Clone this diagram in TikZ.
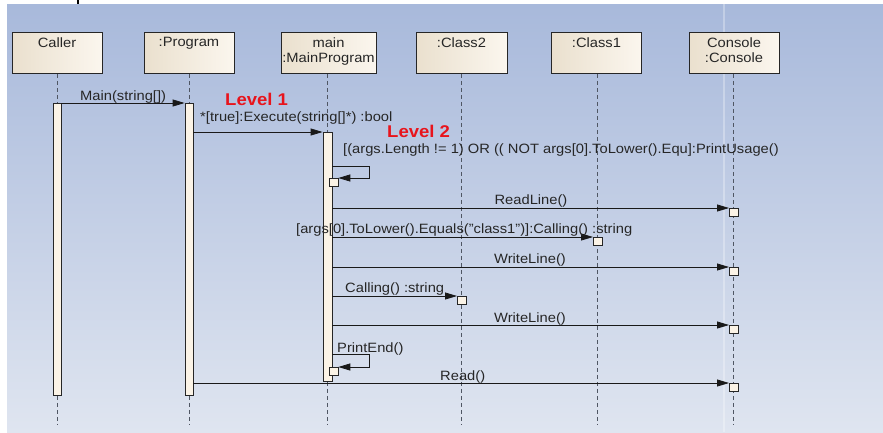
\documentclass[tikz,border=0pt]{standalone}
\usepackage{fontspec}
\setmainfont{Liberation Sans}[FakeStretch=1.09]
\usetikzlibrary{arrows.meta,calc}
\definecolor{bgtop}{HTML}{A8B9DB}
\definecolor{bgbot}{HTML}{DFE5F0}
\definecolor{ink}{HTML}{262626}
\definecolor{boxL}{HTML}{EAE0CE}
\definecolor{boxR}{HTML}{FBF6EE}
\definecolor{barfill}{HTML}{FBF3E6}
\definecolor{lvl}{HTML}{E8141C}
\definecolor{life}{HTML}{4F5663}
\begin{document}
\begin{tikzpicture}[x=1pt,y=-1pt,
 obj/.style={draw=ink, line width=0.8pt, left color=boxL, right color=boxR, minimum width=90pt, minimum height=41pt, inner sep=0pt, anchor=north},
 objtxt/.style={text=ink, font=\fontsize{13.5}{15.5}\selectfont, align=center, anchor=north, inner sep=0pt},
 bar/.style={draw=ink, line width=0.8pt, fill=barfill, minimum width=8pt, inner sep=0pt, anchor=north},
 act/.style={draw=ink, line width=0.8pt, fill=barfill, minimum width=9pt, minimum height=8pt, inner sep=0pt, anchor=north west},
 lifeline/.style={draw=life, line width=0.9pt, dash pattern=on 4pt off 3pt},
 msg/.style={draw=black!90, line width=0.8pt, -{Triangle[length=12pt,width=7pt]}},
 lbl/.style={text=ink, font=\fontsize{13.5}{15.5}\selectfont, inner sep=0pt, anchor=base west},
 lvltxt/.style={text=lvl, font=\bfseries\fontsize{17}{19}\selectfont, inner sep=0pt, anchor=base west},
]
\useasboundingbox (0,0) rectangle (883,432);
\fill[white] (0,0) rectangle (883,432);
\shade[top color=bgtop, bottom color=bgbot] (7,4) rectangle (883,432);
\draw[white, opacity=0.3, line width=2pt] (724,4) -- (724,432);
\draw[black, line width=1.5pt] (78,0) -- (78,3.5);

% objects
\node[obj] (caller) at (57,32) {};
\node[obj] (prog) at (189,32) {};
\node[obj, minimum width=95pt] (main) at (328.5,32) {};
\node[obj, minimum width=91pt] (cls2) at (461.5,32) {};
\node[obj] (cls1) at (596.5,32) {};
\node[obj] (cons) at (734,32) {};
\node[objtxt] (tcaller) at (57,37.5) {Caller};
\node[objtxt] (tprog) at (189,37.5) {:Program};
\node[objtxt] (tmain) at (328.5,37.5) {main\\:MainProgram};
\node[objtxt] (tcls2) at (461.5,37.5) {:Class2};
\node[objtxt] (tcls1) at (596.5,37.5) {:Class1};
\node[objtxt] (tcons) at (734,37.5) {Console\\:Console};

% lifelines
\coordinate (ecaller) at (57,424);
\coordinate (eprog) at (189,424);
\coordinate (emain) at (327.5,424);
\coordinate (ecls2) at (461.5,424);
\coordinate (ecls1) at (597.5,424);
\coordinate (econs) at (733.5,424);
\draw[lifeline] (caller.south) -- (ecaller);
\draw[lifeline] (prog.south) -- (eprog);
\draw[lifeline] (main.south -| emain) -- (emain);
\draw[lifeline] (cls2.south) -- (ecls2);
\draw[lifeline] (cls1.south -| ecls1) -- (ecls1);
\draw[lifeline] (cons.south -| econs) -- (econs);

% activation bars
\node[bar, minimum height=292pt] (cbar) at (57,103) {};
\node[bar, minimum height=292pt] (pbar) at (189,103) {};
\node[bar, minimum height=249pt, minimum width=9pt] (mbar) at (327.5,132) {};

% small activations
\node[act] (self1) at (328.5,178) {};
\node[act] (rl) at (729,208) {};
\node[act] (c1) at (593,237) {};
\node[act] (wl1) at (729,267) {};
\node[act] (c2) at (457,296) {};
\node[act] (wl2) at (729,325) {};
\node[act] (pe) at (328.5,367) {};
\node[act] (rd) at (729,383) {};

% messages
\draw[msg] (cbar.north east) -- (pbar.north west);
\draw[msg] (pbar.east |- mbar.north) -- (mbar.north west);
\draw[msg] (mbar.east |- 0,166) -- (369,166) |- (self1.north east);
\draw[msg] (mbar.east |- rl.north) -- (rl.north west);
\draw[msg] (mbar.east |- c1.north) -- (c1.north west);
\draw[msg] (mbar.east |- wl1.north) -- (wl1.north west);
\draw[msg] (mbar.east |- c2.north) -- (c2.north west);
\draw[msg] (mbar.east |- wl2.north) -- (wl2.north west);
\draw[msg] (mbar.east |- 0,354) -- (369,354) |- (pe.north east);
\draw[msg] (pbar.east |- rd.north) -- (rd.north west);

% labels
\node[lbl] (l1) at (80,100) {Main(string[])};
\node[lbl] (l2) at (200,121) {*[true]:Execute(string[]*) :bool};
\node[lvltxt] (lv1) at (225,105) {Level 1};
\node[lvltxt] (lv2) at (387,137) {Level 2};
\node[lbl] (l3) at (343,153) {[(args.Length != 1) OR (( NOT args[0].ToLower().Equ]:PrintUsage()};
\node[lbl, anchor=base] (l4) at (531,204) {ReadLine()};
\node[lbl] (l5) at (296,233) {[args[0].ToLower().Equals("class1")]:Calling() :string};
\node[lbl, anchor=base] (l6) at (530,263) {WriteLine()};
\node[lbl] (l7) at (345,292) {Calling() :string};
\node[lbl, anchor=base] (l8) at (530,322) {WriteLine()};
\node[lbl] (l9) at (337,352) {PrintEnd()};
\node[lbl] (l10) at (440,380) {Read()};
\end{tikzpicture}
\end{document}
